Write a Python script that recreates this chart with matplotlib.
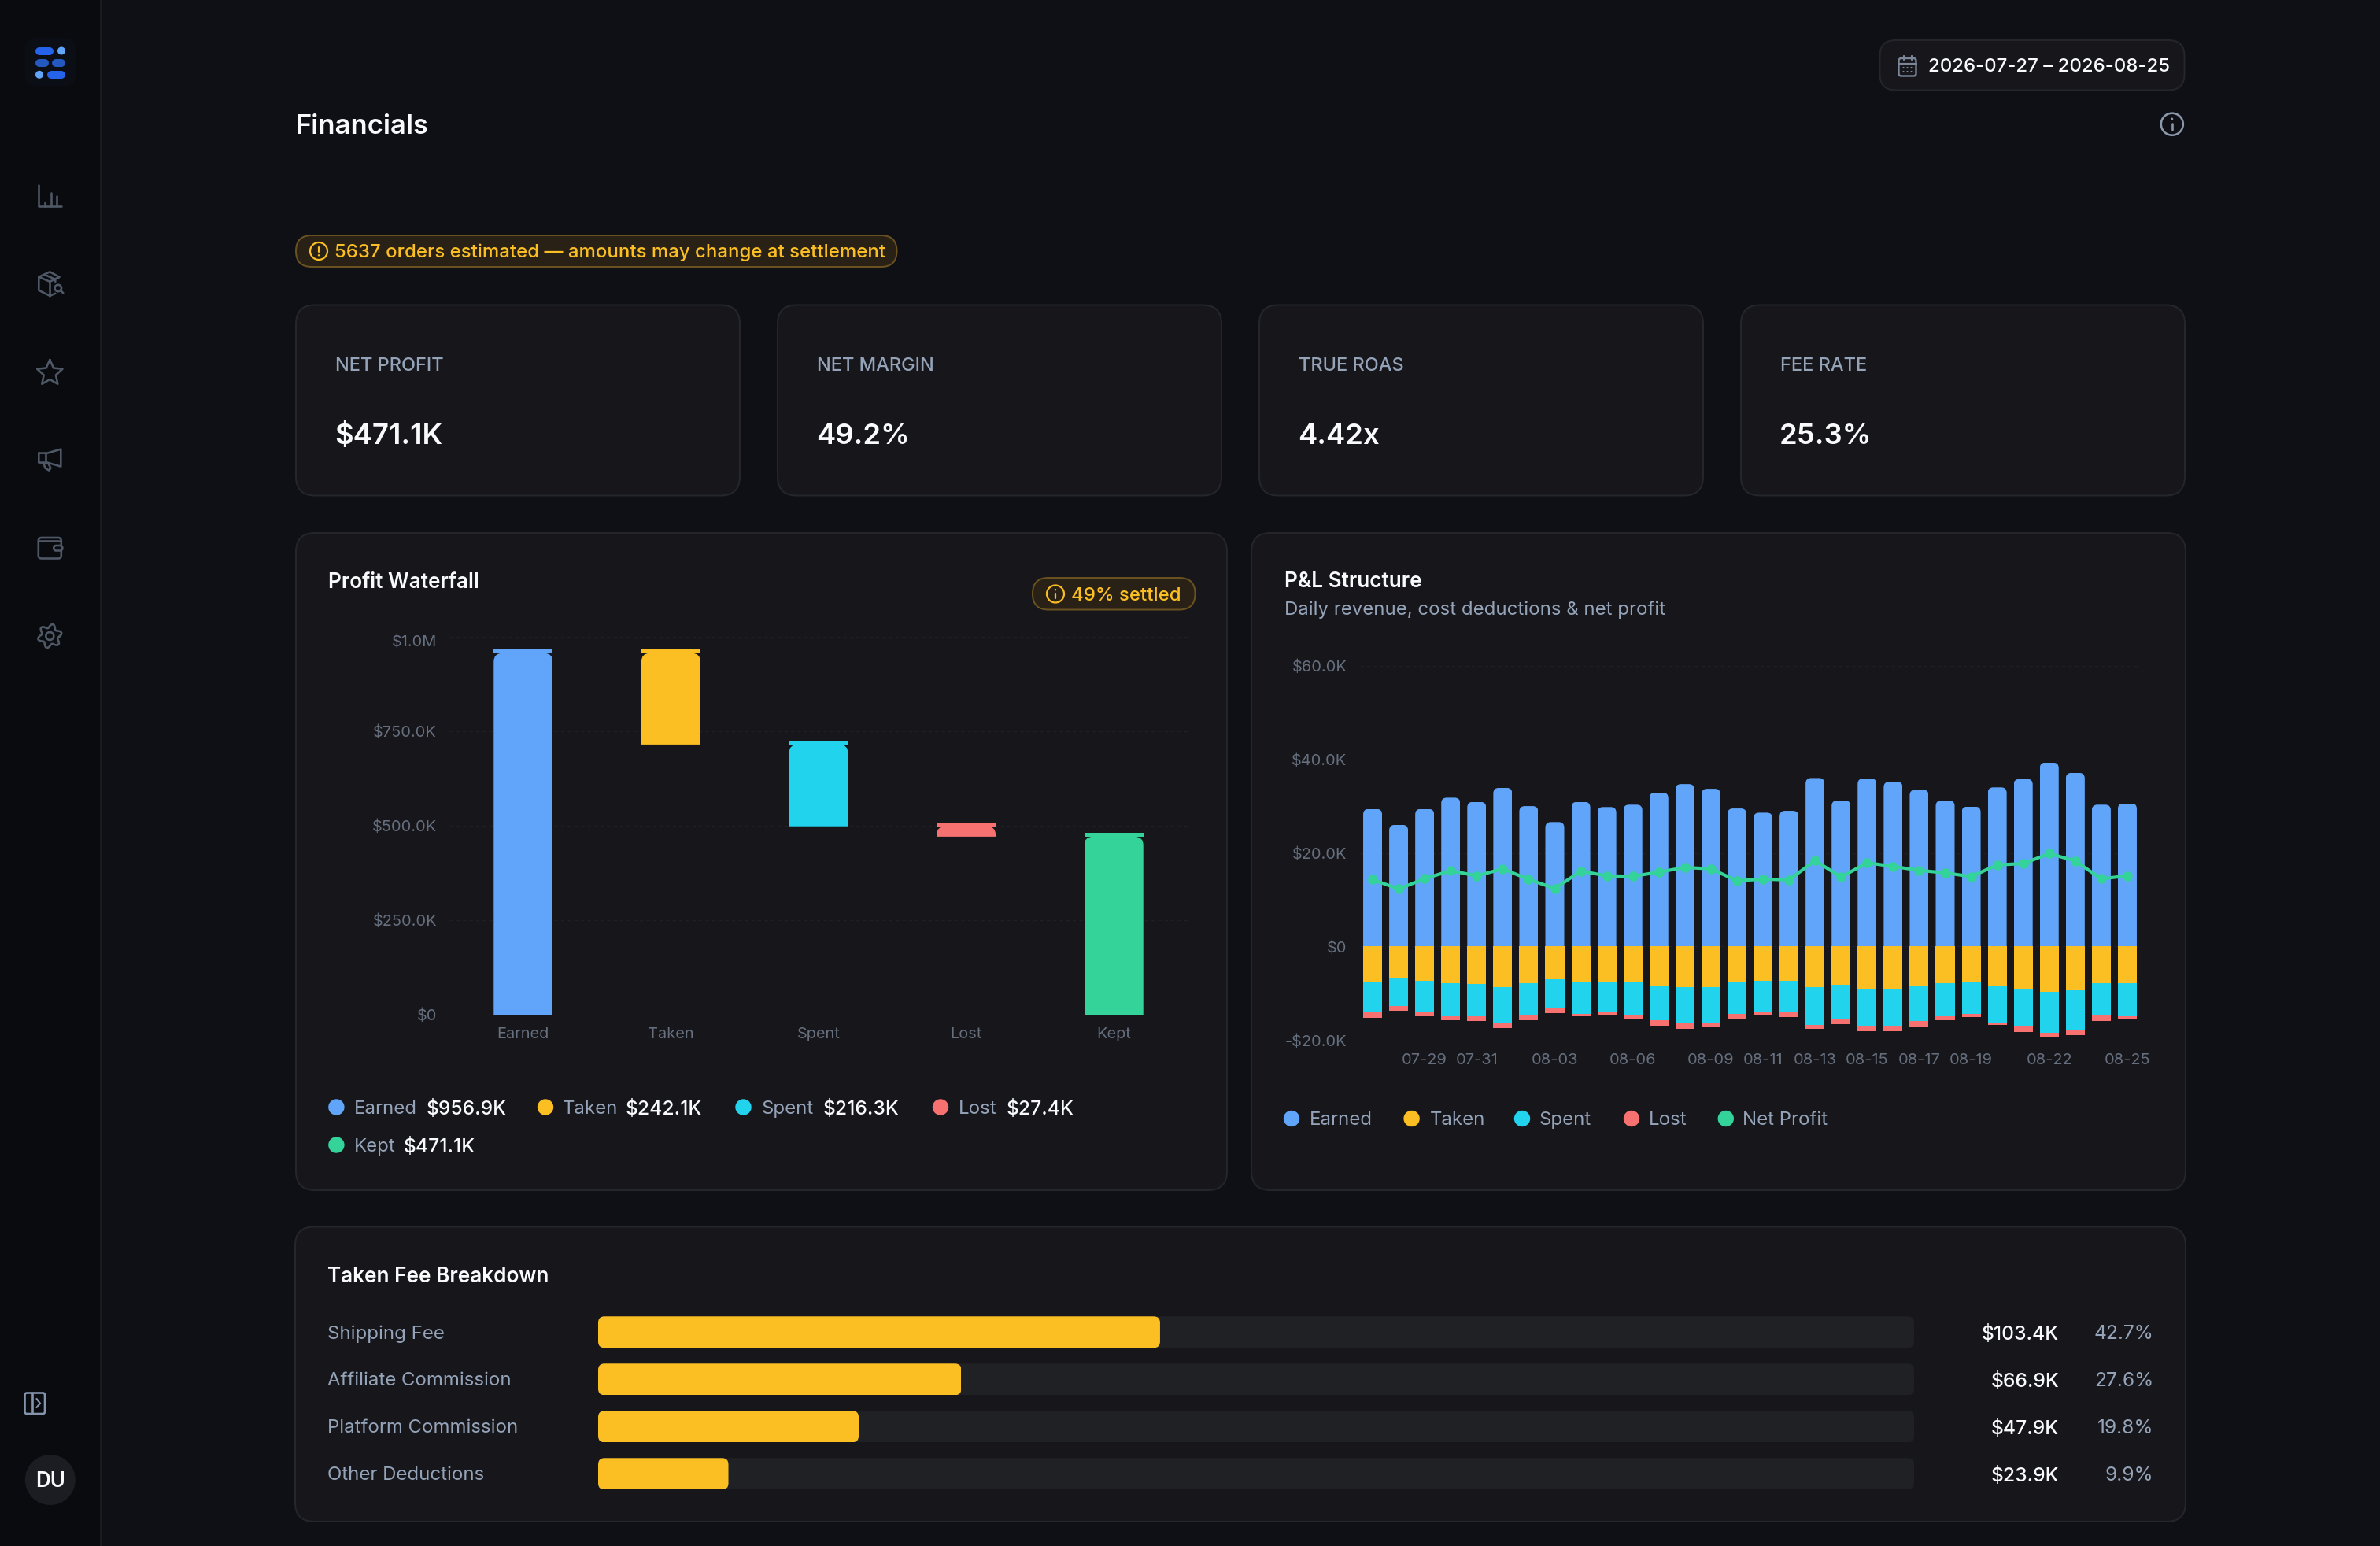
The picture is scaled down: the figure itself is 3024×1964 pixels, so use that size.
import numpy as np
import matplotlib
matplotlib.use("Agg")
import matplotlib.pyplot as plt
from matplotlib.patches import Circle, FancyBboxPatch
from matplotlib.path import Path
from matplotlib.transforms import ScaledTranslation

W, H = 3024, 1964

plt.rcParams["font.family"] = ["Inter", "DejaVu Sans"]

# colours
BG = "#0f1015"
SIDEBAR = "#0a0b0f"
CARD = "#16161b"
BORDER = "#25262c"
WHITE = "#f8fafc"
MUTED = "#94a3b8"
TICK = "#666f7e"
ICON = "#4f5866"
GRID = "#1f2025"
BLUE = "#60a5fa"
AMBER = "#fbbf24"
CYAN = "#22d3ee"
RED = "#f87171"
GREEN = "#34d399"

# kpi cards
kpi_labels = ["NET PROFIT", "NET MARGIN", "TRUE ROAS", "FEE RATE"]
kpi_values = ["$471.1K", "49.2%", "4.42x", "25.3%"]

# waterfall, in $K
wf_labels = ["Earned", "Taken", "Spent", "Lost", "Kept"]
wf_values = [956.9, 242.1, 216.3, 27.4, 471.1]
wf_colors = [BLUE, AMBER, CYAN, RED, GREEN]
wf_ticks = [0, 250, 500, 750, 1000]
wf_ticklabels = ["$0", "$250.0K", "$500.0K", "$750.0K", "$1.0M"]

# daily P&L, in $K
pl_dates = ["07-27", "07-28", "07-29", "07-30", "07-31", "08-01", "08-02", "08-03", "08-04", "08-05",
            "08-06", "08-07", "08-08", "08-09", "08-10", "08-11", "08-12", "08-13", "08-14", "08-15",
            "08-16", "08-17", "08-18", "08-19", "08-20", "08-21", "08-22", "08-23", "08-24", "08-25"]
pl_shown = ["07-29", "07-31", "08-03", "08-06", "08-09", "08-11", "08-13", "08-15", "08-17", "08-19", "08-22", "08-25"]
pl_earned = [29.4, 26.0, 29.4, 31.8, 30.9, 33.9, 30.0, 26.6, 30.9, 29.8, 30.3, 32.9, 34.7, 33.7, 29.5,
             28.6, 29.0, 36.0, 31.2, 35.9, 35.2, 33.5, 31.2, 29.9, 34.0, 35.8, 39.3, 37.1, 30.3, 30.6]
pl_taken = [7.45, 6.67, 7.39, 7.81, 7.93, 8.65, 7.75, 6.97, 7.51, 7.45, 7.63, 8.35, 8.65, 8.59, 7.51,
            7.39, 7.32, 8.71, 8.11, 9.01, 9.01, 8.40, 7.87, 7.51, 8.47, 9.01, 9.73, 9.37, 7.87, 7.87]
pl_spent = [6.67, 5.95, 6.67, 7.15, 7.03, 7.57, 6.91, 6.31, 6.85, 6.49, 6.91, 7.39, 7.75, 7.63, 6.85,
            6.55, 6.67, 8.11, 7.21, 8.11, 8.11, 7.44, 7.02, 6.79, 7.81, 7.93, 8.65, 8.52, 6.79, 7.09]
pl_lost = [1.02, 1.08, 0.84, 0.72, 0.90, 1.14, 1.02, 0.90, 0.48, 0.72, 0.78, 1.20, 1.26, 0.96, 1.08,
           0.60, 1.08, 0.84, 1.20, 0.90, 0.96, 1.38, 0.84, 0.78, 0.48, 1.26, 1.08, 1.02, 1.26, 0.54]
pl_net = [14.3, 12.3, 14.5, 16.2, 15.1, 16.6, 14.35, 12.4, 16.1, 15.1, 15.0, 15.9, 16.9, 16.6, 14.06,
          14.41, 14.23, 18.37, 14.83, 17.91, 17.11, 16.28, 15.73, 14.95, 17.44, 17.72, 19.87, 18.28, 14.46, 15.11]
pl_ticks = [-20, 0, 20, 40, 60]
pl_ticklabels = ["-$20.0K", "$0", "$20.0K", "$40.0K", "$60.0K"]
pl_legend = ["Earned", "Taken", "Spent", "Lost", "Net Profit"]
pl_legend_colors = [BLUE, AMBER, CYAN, RED, GREEN]

# fee breakdown
fee_labels = ["Shipping Fee", "Affiliate Commission", "Platform Commission", "Other Deductions"]
fee_amounts = ["$103.4K", "$66.9K", "$47.9K", "$23.9K"]
fee_pct = [42.7, 27.6, 19.8, 9.9]

fig = plt.figure(figsize=(W / 100, H / 100), dpi=100, facecolor=BG)

# page layer, in screenshot pixels
page = fig.add_axes([0, 0, 1, 1])
page.set_xlim(0, W)
page.set_ylim(H, 0)
page.axis("off")


def axes_px(x0, y0, x1, y1):
    ax = fig.add_axes([x0 / W, 1 - y1 / H, (x1 - x0) / W, (y1 - y0) / H])
    ax.patch.set_alpha(0)
    for s in ax.spines.values():
        s.set_visible(False)
    return ax


def label(x, y, s, px, color=WHITE, ha="left", weight="normal"):
    return page.text(x, y + 0.09 * px, s, fontsize=px * 0.72, color=color, ha=ha, va="center",
                     fontweight=weight, zorder=5)


def box(x0, y0, x1, y1, r, fc=CARD, ec=BORDER, lw=2.0, z=1):
    p = FancyBboxPatch((x0 + r, y0 + r), x1 - x0 - 2 * r, y1 - y0 - 2 * r,
                       boxstyle=f"round,pad={r},rounding_size={r}",
                       fc=fc, ec=ec, lw=lw * 0.72, zorder=z)
    page.add_patch(p)
    return p


def stroke(pts, color=ICON, lw=2.6, closed=False):
    pts = list(pts)
    if closed:
        pts.append(pts[0])
    xs, ys = zip(*pts)
    page.plot(xs, ys, color=color, lw=lw * 0.72, solid_capstyle="round", solid_joinstyle="round", zorder=3)


def rel(cx, cy, pts):
    return [(cx + a, cy + b) for a, b in pts]


def info_icon(cx, cy, r, color, flip=False, lw=2.6):
    page.add_patch(Circle((cx, cy), r, fc="none", ec=color, lw=lw * 0.72, zorder=3))
    if flip:
        # exclamation
        stroke([(cx, cy - r * 0.5), (cx, cy + r * 0.1)], color, lw)
        page.add_patch(Circle((cx, cy + r * 0.48), lw * 0.55, fc=color, ec="none", zorder=3))
    else:
        stroke([(cx, cy - r * 0.05), (cx, cy + r * 0.5)], color, lw)
        page.add_patch(Circle((cx, cy - r * 0.48), lw * 0.55, fc=color, ec="none", zorder=3))


def rounded_clip(bar, ax, r_px, px_x, px_y, all_corners=False):
    # clip a rectangle from ax.bar to a shape with rounded corners
    x0, y0 = bar.get_x(), bar.get_y()
    w, h = bar.get_width(), bar.get_height()
    x1, y1 = x0 + w, y0 + h
    rx, ry = r_px * px_x, r_px * px_y
    verts = [(x0, y1 - ry), (x0, y1), (x0 + rx, y1), (x1 - rx, y1), (x1, y1), (x1, y1 - ry)]
    codes = [Path.MOVETO, Path.CURVE3, Path.CURVE3, Path.LINETO, Path.CURVE3, Path.CURVE3]
    if all_corners:
        verts += [(x1, y0 + ry), (x1, y0), (x1 - rx, y0), (x0 + rx, y0), (x0, y0), (x0, y0 + ry)]
        codes += [Path.LINETO, Path.CURVE3, Path.CURVE3, Path.LINETO, Path.CURVE3, Path.CURVE3]
    else:
        verts += [(x1, y0), (x0, y0)]
        codes += [Path.LINETO, Path.LINETO]
    verts.append(verts[0])
    codes.append(Path.CLOSEPOLY)
    bar.set_clip_path(Path(verts, codes), ax.transData)


# sidebar
page.add_patch(plt.Rectangle((0, 0), 127, H, fc=SIDEBAR, ec="none", zorder=0))
page.plot([127.5, 127.5], [0, H], color="#1b1c21", lw=1.4, zorder=1)

box(32, 48, 96, 109, 14, fc="#0b0e15", ec="none", lw=0)
for xa, xb, yy, col in [(50, 62.7, 64.5, "#2563eb"), (50, 56.7, 79.7, "#2459c0"),
                        (71.3, 78, 79.7, "#2459c0"), (65, 78, 94.8, "#2563eb")]:
    page.plot([xa, xb], [yy, yy], color=col, lw=7.2, solid_capstyle="round", zorder=3)
for cx, yy in [(78, 64.5), (50, 94.8)]:
    page.add_patch(Circle((cx, yy), 5, fc="#60a5fa", ec="none", zorder=3))

ix = 63.3
# bar chart icon
stroke(rel(ix, 248.6, [(-14, -14), (-14, 13.5), (14.5, 13.5)]))
stroke(rel(ix, 248.6, [(-6, 8), (-6, 13)]))
stroke(rel(ix, 248.6, [(1.7, -4), (1.7, 13)]))
stroke(rel(ix, 248.6, [(8.7, 0), (8.7, 13)]))
# package with search icon
stroke(rel(ix, 360.8, [(10, -7), (12, -9), (0, -15.5), (-14, -9), (-14, 8), (0, 15), (7, 12)]))
stroke(rel(ix, 360.8, [(-14, -9), (0, -3), (12, -9)]))
stroke(rel(ix, 360.8, [(0, -3), (0, 15)]))
stroke(rel(ix, 360.8, [(-7, -12), (7, -6), (7, -3)]))
page.add_patch(Circle((ix + 10.5, 366), 4.2, fc="none", ec=ICON, lw=1.9, zorder=3))
stroke(rel(ix, 360.8, [(14, 8.5), (17, 11.5)]))
# star icon
ang = np.deg2rad(np.arange(10) * 36 - 90)
rad = np.where(np.arange(10) % 2 == 0, 17, 8)
stroke(list(zip(ix + rad * np.cos(ang), 474 + rad * np.sin(ang))), closed=True)
# megaphone icon
stroke(rel(ix, 583.6, [(-14, -8), (-3, -8), (14, -13), (14, 9), (-3, 4), (-14, 4)]), closed=True)
stroke(rel(ix, 583.6, [(-5, -8), (-5, 4)]))
stroke(rel(ix, 583.6, [(-8, 4), (-6, 11), (-1, 14), (1, 11), (-2, 5)]))
# wallet icon
box(ix - 14.5, 683, ix + 14.5, 709.5, 4, fc="none", ec=ICON, lw=2.6, z=3)
stroke(rel(ix, 695.8, [(-13, -8.5), (13, -8.5)]))
box(ix + 5, 693, ix + 16, 699.5, 3, fc=SIDEBAR, ec=ICON, lw=2.6, z=4)
# gear icon
t = np.linspace(0, 2 * np.pi, 73)
gr = 12.8 + 2.6 * np.cos(6 * t + np.pi / 2)
page.plot(ix + gr * np.cos(t), 808 + gr * np.sin(t), color=ICON, lw=1.9, zorder=3)
page.add_patch(Circle((ix, 808), 5, fc="none", ec=ICON, lw=1.9, zorder=3))
# collapse toggle
box(31.5, 1769.5, 57, 1796, 2.5, fc="none", ec="#8494ad", lw=2.6, z=3)
stroke([(41, 1770), (41, 1795)], "#8494ad")
stroke([(46.5, 1777), (51, 1782.7), (46.5, 1788)], "#8494ad", 2.2)
# avatar
page.add_patch(Circle((63.8, 1880), 32, fc="#1c1d22", ec="none", zorder=2))
label(63.8, 1880, "DU", 26, WHITE, ha="center", weight="semibold")

# header
label(376, 158, "Financials", 34.5, WHITE, weight="semibold")
box(2388.5, 51, 2775.5, 114.5, 20)
label(2450, 82.5, "2026-07-27 – 2026-08-25", 24, WHITE, weight="medium")
box(2412.5, 74, 2434.5, 96.5, 3, fc="none", ec="#7b8799", lw=2.4, z=3)
stroke([(2412.5, 80.5), (2434.5, 80.5)], "#7b8799", 2.2)
stroke([(2418.5, 71), (2418.5, 76)], "#7b8799", 2.2)
stroke([(2428.5, 71), (2428.5, 76)], "#7b8799", 2.2)
for dx in (2418.5, 2423.5, 2428.5):
    for dy in (86, 91):
        page.add_patch(Circle((dx, dy), 1.1, fc="#7b8799", ec="none", zorder=3))
info_icon(2759.8, 157.7, 14, "#8b97aa")

# estimate chip
box(376, 299, 1139.5, 339, 20, fc="#2a2116", ec="#6a5220", lw=2)
info_icon(405, 319, 11, AMBER, flip=True, lw=2.2)
label(425, 319, "5637 orders estimated — amounts may change at settlement", 24, AMBER, weight="medium")

# kpi cards
for i, (name, val) in enumerate(zip(kpi_labels, kpi_values)):
    x0 = 376 + i * 612
    box(x0, 387.5, x0 + 564, 629.5, 24)
    label(x0 + 50, 463, name, 23.6, MUTED, weight="medium")
    label(x0 + 49, 551, val, 36.5, WHITE, weight="semibold")

# waterfall card
box(376, 677, 1559, 1512, 24)
label(417, 738, "Profit Waterfall", 26.2, WHITE, weight="semibold")
box(1312, 734, 1518.5, 774.5, 20, fc="#2a2116", ec="#6a5220", lw=2)
info_icon(1341, 754.5, 11, AMBER, lw=2.2)
label(1361, 754.5, "49% settled", 24, AMBER, weight="medium")

wf_x0, wf_x1, wf_top, wf_bot = 571, 1509, 809, 1289
ax = axes_px(wf_x0, wf_top, wf_x1, wf_bot)
ax.set_xlim(-0.5, 4.5)
ax.set_ylim(0, 1000)
wf_px_x = 5 / (wf_x1 - wf_x0)
wf_px_y = 1000 / (wf_bot - wf_top)

wf_bottom = [0.0]
running = wf_values[0]
for v in wf_values[1:4]:
    running -= v
    wf_bottom.append(running)
wf_bottom.append(0.0)

bars = ax.bar(range(5), wf_values, bottom=wf_bottom, width=0.4, color=wf_colors, zorder=3)
for b in bars:
    rounded_clip(b, ax, 11, wf_px_x, wf_px_y)
# thin cap strip sits above each body
tops = [b + v for b, v in zip(wf_bottom, wf_values)]
ax.bar(range(5), [4.4 * wf_px_y] * 5, bottom=tops, width=0.4, color=wf_colors, zorder=3)

ax.set_yticks(wf_ticks, wf_ticklabels)
ax.set_xticks(range(5), wf_labels)
ax.yaxis.grid(True, color=GRID, lw=1.0, linestyle=(0, (3, 3)))
ax.set_axisbelow(True)
ax.tick_params(axis="both", length=0, colors=TICK, labelsize=20 * 0.72)
ax.tick_params(axis="x", pad=11.5)
ax.tick_params(axis="y", pad=11.5)
# top label sits a little under its gridline
top_lab = ax.get_yticklabels()[-1]
top_lab.set_transform(top_lab.get_transform() + ScaledTranslation(0, -0.05, fig.dpi_scale_trans))

wf_legend = [(427.4, 1406.5, 449.6, 542), (693, 1406.5, 715, 794.3), (944.5, 1406.5, 967.4, 1045.9),
             (1195, 1406.5, 1218, 1279), (427.4, 1454.5, 449.6, 513)]
for (dx, dy, lx, vx), name, val, col in zip(wf_legend, wf_labels, wf_values, wf_colors):
    page.add_patch(Circle((dx, dy), 10.2, fc=col, ec="none", zorder=3))
    label(lx, dy, name, 24, MUTED)
    label(vx, dy, f"${val:.1f}K", 24.6, WHITE, weight="medium")

# P&L card
box(1590, 677, 2777, 1512, 24)
label(1632, 737, "P&L Structure", 26.2, WHITE, weight="semibold")
label(1632, 773, "Daily revenue, cost deductions & net profit", 24, MUTED)

pl_x0, pl_x1, pl_top, pl_bot = 1727.5, 2719.5, 845.7, 1321.4
ax = axes_px(pl_x0, pl_top, pl_x1, pl_bot)
x = np.arange(len(pl_dates))
ax.set_xlim(-0.5, 29.5)
ax.set_ylim(-20, 60)
pl_px_x = 30 / (pl_x1 - pl_x0)
pl_px_y = 80 / (pl_bot - pl_top)

earned = np.array(pl_earned)
taken = np.array(pl_taken)
spent = np.array(pl_spent)
lost = np.array(pl_lost)

bars = ax.bar(x, earned, width=0.726, color=BLUE, zorder=3)
for b in bars:
    rounded_clip(b, ax, 7, pl_px_x, pl_px_y)
ax.bar(x, -taken, width=0.726, color=AMBER, zorder=3)
ax.bar(x, -spent, bottom=-taken, width=0.726, color=CYAN, zorder=3)
ax.bar(x, -lost, bottom=-(taken + spent), width=0.726, color=RED, zorder=3)
ax.plot(x, pl_net, color=GREEN, lw=3.0, marker="o", ms=8, mec=GREEN, zorder=4, clip_on=False)

ax.set_yticks(pl_ticks, pl_ticklabels)
ax.set_xticks([pl_dates.index(d) for d in pl_shown], pl_shown)
ax.yaxis.grid(True, color=GRID, lw=1.0, linestyle=(0, (3, 3)))
ax.set_axisbelow(True)
ax.tick_params(axis="both", length=0, colors=TICK, labelsize=20 * 0.72)
ax.tick_params(axis="x", pad=12)
ax.tick_params(axis="y", pad=11.6)

pl_leg_dots = [1641, 1793.6, 1934, 2073, 2192.8]
pl_leg_text = [1664, 1816.7, 1955.6, 2094.5, 2214]
for dx, lx, name, col in zip(pl_leg_dots, pl_leg_text, pl_legend, pl_legend_colors):
    page.add_patch(Circle((dx, 1421), 10.2, fc=col, ec="none", zorder=3))
    label(lx, 1421, name, 24, MUTED)

# fee breakdown card
box(375, 1558.5, 2777, 1933, 24)
label(416, 1620, "Taken Fee Breakdown", 26.2, WHITE, weight="semibold")

fb_x0, fb_x1, fb_top, fb_bot = 760, 2432, 1662.3, 1902.3
ax = axes_px(fb_x0, fb_top, fb_x1, fb_bot)
ax.axis("off")
ax.set_xlim(0, 100)
ax.set_ylim(3.5, -0.5)
fb_px_x = 100 / (fb_x1 - fb_x0)
fb_px_y = 4 / (fb_bot - fb_top)
tracks = ax.barh(range(4), [100] * 4, height=0.667, color="#202125", zorder=2)
fills = ax.barh(range(4), fee_pct, height=0.667, color=AMBER, zorder=3)
for b in list(tracks) + list(fills):
    rounded_clip(b, ax, 8, fb_px_x, fb_px_y, all_corners=True)

for i, (name, amt, pct) in enumerate(zip(fee_labels, fee_amounts, fee_pct)):
    yy = 1692.3 + i * 60
    label(416, yy, name, 24, MUTED)
    label(2616, yy, amt, 24.6, WHITE, ha="right", weight="medium")
    label(2736, yy, f"{pct:.1f}%", 24.6, MUTED, ha="right")

fig.savefig("out.png", dpi=100, facecolor=BG)
